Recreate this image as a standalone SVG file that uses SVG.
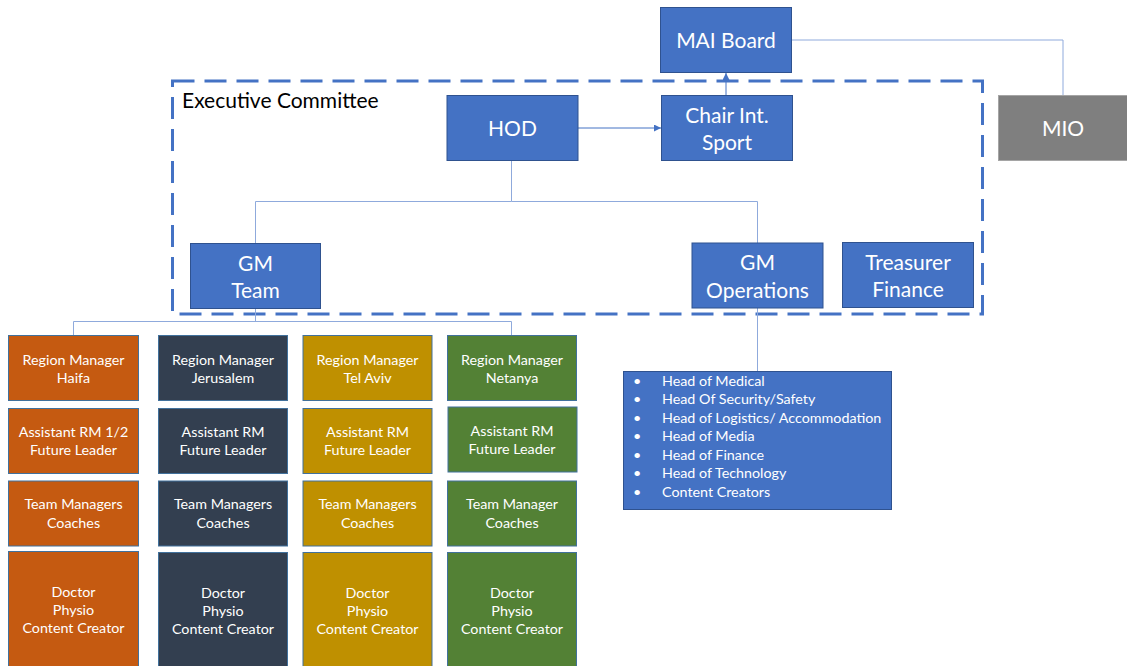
<svg xmlns="http://www.w3.org/2000/svg" width="1127" height="666" viewBox="0 0 1127 666">
<style>
.b{fill:#4472c4;stroke:#2f528f;stroke-width:1}
.g{fill:#7f7f7f;stroke:#a5a5a5;stroke-width:1}
.o{fill:#c55a11;stroke:#41719c;stroke-width:1}
.d{fill:#333f50;stroke:#41719c;stroke-width:1}
.y{fill:#bf9000;stroke:#41719c;stroke-width:1}
.v{fill:#538135;stroke:#41719c;stroke-width:1}
text{font-family:Lato,"Open Sans","Liberation Sans",sans-serif;fill:#fff;text-anchor:middle;dominant-baseline:central}
.L{font-size:21px}
.S{font-size:14.3px}
.li{font-size:14.3px;text-anchor:start}
.c{fill:none;stroke:#8faadc;stroke-width:1}
.a{fill:none;stroke:#4472c4;stroke-width:1;marker-end:url(#ar)}
</style>
<defs>
<marker id="ar" viewBox="0 0 10 10" refX="10" refY="5" markerWidth="7" markerHeight="7" orient="auto" markerUnits="userSpaceOnUse">
<path d="M0,0 L10,5 L0,10 z" fill="#4472c4"/>
</marker>
</defs>
<rect id="exec-committee" x="172.5" y="81" width="810" height="233" fill="none" stroke="#4472c4" stroke-width="3" stroke-dasharray="22 10"/>
<text x="182" y="99" style="font-size:21px;fill:#000;text-anchor:start">Executive Committee</text>
<g id="connectors">
<path class="a" d="M578,128 H661"/>
<path class="a" d="M726,95 V73"/>
<path class="c" d="M792,40 H1063 V95"/>
<path class="c" d="M511.5,161 V201.5 H255.5 V243 M511.5,201.5 H757.5 V243"/>
<path class="c" d="M757.5,308 V371"/>
<path class="c" d="M255.5,309 V321.5 M73.5,335 V321.5 H511.5 V335"/>
</g>
<g id="mai-board"><rect class="b" x="660.5" y="7.5" width="131" height="65"/><text class="L" x="726" y="39.5">MAI Board</text></g>
<g id="hod"><rect class="b" x="447" y="95.5" width="131" height="65"/><text class="L" x="512.5" y="127.5">HOD</text></g>
<g id="chair"><rect class="b" x="661.5" y="95.5" width="131" height="65"/><text class="L" x="727" y="114">Chair Int.</text><text class="L" x="727" y="141.5">Sport</text></g>
<g id="mio"><rect class="g" x="998.5" y="95.5" width="135" height="65"/><text class="L" x="1063" y="127.5">MIO</text></g>
<g id="gm-team"><rect class="b" x="190.5" y="243.5" width="130" height="65"/><text class="L" x="255.5" y="262">GM</text><text class="L" x="255.5" y="289.5">Team</text></g>
<g id="gm-ops"><rect class="b" x="692" y="243" width="131" height="65"/><text class="L" x="757.5" y="261.5">GM</text><text class="L" x="757.5" y="289">Operations</text></g>
<g id="treasurer"><rect class="b" x="842.5" y="242.5" width="131" height="65"/><text class="L" x="908" y="261">Treasurer</text><text class="L" x="908" y="288">Finance</text></g>
<g id="ops-list"><rect class="b" x="623.5" y="371.5" width="268" height="138"/>
<text class="li" x="633" y="380">•</text><text class="li" x="662" y="380">Head of Medical</text>
<text class="li" x="633" y="398.5">•</text><text class="li" x="662" y="398.5">Head Of Security/Safety</text>
<text class="li" x="633" y="417">•</text><text class="li" x="662" y="417">Head of Logistics/ Accommodation</text>
<text class="li" x="633" y="435.5">•</text><text class="li" x="662" y="435.5">Head of Media</text>
<text class="li" x="633" y="454">•</text><text class="li" x="662" y="454">Head of Finance</text>
<text class="li" x="633" y="472.5">•</text><text class="li" x="662" y="472.5">Head of Technology</text>
<text class="li" x="633" y="491">•</text><text class="li" x="662" y="491">Content Creators</text>
</g>
<g id="rm-haifa"><rect class="o" x="8.5" y="335.5" width="130" height="65"/><text class="S" x="73.5" y="359">Region Manager</text><text class="S" x="73.5" y="377">Haifa</text></g>
<g id="arm-haifa"><rect class="o" x="8.5" y="408.5" width="130" height="65"/><text class="S" x="73.5" y="431">Assistant RM 1/2</text><text class="S" x="73.5" y="449.5">Future Leader</text></g>
<g id="tm-haifa"><rect class="o" x="8.5" y="481" width="130" height="65"/><text class="S" x="73.5" y="503.5">Team Managers</text><text class="S" x="73.5" y="522">Coaches</text></g>
<g id="doc-haifa"><rect class="o" x="8.5" y="551.5" width="130" height="120"/><text class="S" x="73.5" y="591">Doctor</text><text class="S" x="73.5" y="609.5">Physio</text><text class="S" x="73.5" y="627.5">Content Creator</text></g>
<g id="rm-jer"><rect class="d" x="158.5" y="335.5" width="129" height="65"/><text class="S" x="223" y="359">Region Manager</text><text class="S" x="223" y="377">Jerusalem</text></g>
<g id="arm-jer"><rect class="d" x="158.5" y="408.5" width="129" height="65"/><text class="S" x="223" y="431">Assistant RM</text><text class="S" x="223" y="449.5">Future Leader</text></g>
<g id="tm-jer"><rect class="d" x="158.5" y="481" width="129" height="65"/><text class="S" x="223" y="503.5">Team Managers</text><text class="S" x="223" y="522">Coaches</text></g>
<g id="doc-jer"><rect class="d" x="158.5" y="552.5" width="129" height="120"/><text class="S" x="223" y="592">Doctor</text><text class="S" x="223" y="610.5">Physio</text><text class="S" x="223" y="628.5">Content Creator</text></g>
<g id="rm-ta"><rect class="y" x="303" y="335.5" width="129" height="65"/><text class="S" x="367.5" y="359">Region Manager</text><text class="S" x="367.5" y="377">Tel Aviv</text></g>
<g id="arm-ta"><rect class="y" x="303" y="408.5" width="129" height="65"/><text class="S" x="367.5" y="431">Assistant RM</text><text class="S" x="367.5" y="449.5">Future Leader</text></g>
<g id="tm-ta"><rect class="y" x="303" y="481" width="129" height="65"/><text class="S" x="367.5" y="503.5">Team Managers</text><text class="S" x="367.5" y="522">Coaches</text></g>
<g id="doc-ta"><rect class="y" x="303" y="552.5" width="129" height="120"/><text class="S" x="367.5" y="592">Doctor</text><text class="S" x="367.5" y="610.5">Physio</text><text class="S" x="367.5" y="628.5">Content Creator</text></g>
<g id="rm-net"><rect class="v" x="447.5" y="335.5" width="129" height="65"/><text class="S" x="512" y="359">Region Manager</text><text class="S" x="512" y="377">Netanya</text></g>
<g id="arm-net"><rect class="v" x="448" y="407" width="129" height="65"/><text class="S" x="512" y="430">Assistant RM</text><text class="S" x="512" y="448.5">Future Leader</text></g>
<g id="tm-net"><rect class="v" x="447.5" y="481" width="129" height="65"/><text class="S" x="512" y="503.5">Team Manager</text><text class="S" x="512" y="522">Coaches</text></g>
<g id="doc-net"><rect class="v" x="447.5" y="552.5" width="129" height="120"/><text class="S" x="512" y="592">Doctor</text><text class="S" x="512" y="610.5">Physio</text><text class="S" x="512" y="628.5">Content Creator</text></g>
</svg>
